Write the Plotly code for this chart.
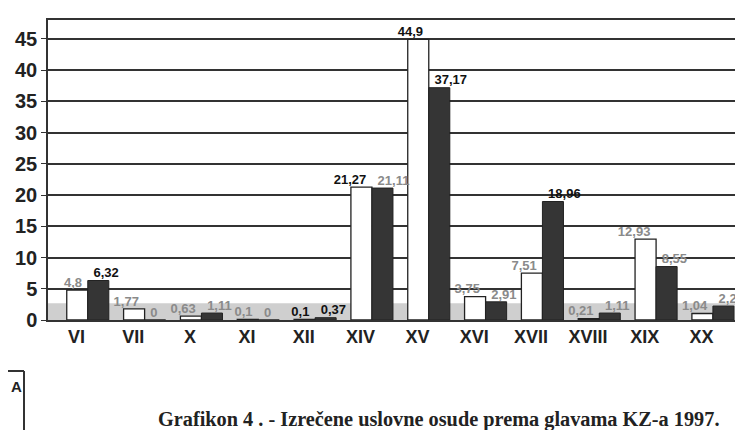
import numpy as np
import plotly.graph_objects as go

categories = ["VI", "VII", "X", "XI", "XII", "XIV", "XV", "XVI", "XVII", "XVIII", "XIX", "XX"]
series_light = [4.8, 1.77, 0.63, 0.1, 0.1, 21.27, 44.9, 3.75, 7.51, 0.21, 12.93, 1.04]
series_dark = [6.32, 0, 1.11, 0, 0.37, 21.11, 37.17, 2.91, 18.96, 1.11, 8.55, 2.23]
y_ticks = [0, 5, 10, 15, 20, 25, 30, 35, 40, 45]

# label tint as it appears in the scan (faint grey vs. solid black)
light_label_colors = ["#8a8a8a", "#8a8a8a", "#8a8a8a", "#8a8a8a", "#111", "#111",
                      "#111", "#8a8a8a", "#8a8a8a", "#8a8a8a", "#8a8a8a", "#8a8a8a"]
dark_label_colors = ["#111", "#8a8a8a", "#8a8a8a", "#8a8a8a", "#111", "#8a8a8a",
                     "#111", "#8a8a8a", "#111", "#8a8a8a", "#8a8a8a", "#8a8a8a"]

idx = np.arange(len(categories))


def fmt(v):
    s = ("%g" % v)
    return s.replace(".", ",")


fig = go.Figure()

BW = 0.37
fig.add_trace(go.Bar(
    x=idx, y=series_light, width=BW, offset=-0.17,
    marker=dict(color="white", line=dict(color="#222", width=1.3)),
    showlegend=False, hoverinfo="y",
))
fig.add_trace(go.Bar(
    x=idx, y=series_dark, width=BW, offset=-0.17 + BW,
    marker=dict(color="#353535", line=dict(color="#222", width=1)),
    showlegend=False, hoverinfo="y",
))

fig.add_trace(go.Scatter(
    x=idx + 0.1, y=series_light, mode="text",
    text=[fmt(v) for v in series_light], textposition="top left",
    textfont=dict(family="Liberation Sans, Arial", size=13, weight="bold", color=light_label_colors),
    showlegend=False, hoverinfo="skip", cliponaxis=False,
))
fig.add_trace(go.Scatter(
    x=idx + 0.3, y=series_dark, mode="text",
    text=[fmt(v) for v in series_dark], textposition="top right",
    textfont=dict(family="Liberation Sans, Arial", size=13, weight="bold", color=dark_label_colors),
    showlegend=False, hoverinfo="skip", cliponaxis=False,
))

# grey floor band (the 3D floor of the original chart)
fig.add_shape(type="rect", xref="paper", yref="y", x0=0, x1=1, y0=0, y1=2.7,
              fillcolor="#cfcfcf", line=dict(width=0), layer="below")

# fragment of a boxed element at the left page edge
fig.add_shape(type="line", xref="paper", yref="paper",
              x0=(0 - 40) / 703, x1=(16 - 40) / 703, y0=(312 - 363) / 300, y1=(312 - 363) / 300,
              line=dict(color="#333", width=2))
fig.add_shape(type="line", xref="paper", yref="paper",
              x0=(16 - 40) / 703, x1=(16 - 40) / 703, y0=(312 - 363) / 300, y1=(312 - 440) / 300,
              line=dict(color="#333", width=2))
fig.add_annotation(xref="paper", yref="paper", x=(1 - 40) / 703, y=(312 - 378) / 300,
                   text="A", showarrow=False, xanchor="left", yanchor="middle",
                   font=dict(family="Liberation Sans, Arial", size=15, weight="bold", color="#222"))

fig.add_annotation(xref="paper", yref="paper", x=(148 - 40) / 703, y=(312 - 411) / 300,
                   text="Grafikon 4 . - Izrečene uslovne osude prema glavama KZ-a 1997.",
                   showarrow=False, xanchor="left", yanchor="middle",
                   font=dict(family="Liberation Serif, Times New Roman", size=20.3, weight="bold", color="#222"))

fig.update_layout(
    width=743, height=430,
    margin=dict(l=40, r=0, t=12, b=118),
    paper_bgcolor="white", plot_bgcolor="white",
    barmode="overlay",
    xaxis=dict(
        range=[-0.5, 11.87], tickmode="array", tickvals=idx, ticktext=categories,
        showgrid=False, showline=True, linecolor="#333", linewidth=1.5, mirror=True,
        ticks="", zeroline=False,
        tickfont=dict(family="Liberation Sans Narrow, Arial Narrow, Liberation Sans", size=18,
                      weight="bold", color="#222"),
    ),
    yaxis=dict(
        range=[0, 48], tickmode="array", tickvals=y_ticks,
        showgrid=True, gridcolor="#333", gridwidth=1.5,
        showline=True, linecolor="#333", linewidth=1.5,
        ticks="outside", ticklen=5, tickcolor="#333", zeroline=False,
        tickfont=dict(family="Liberation Sans, Arial", size=20, weight="bold", color="#222"),
    ),
)

fig.write_html("out.html")
